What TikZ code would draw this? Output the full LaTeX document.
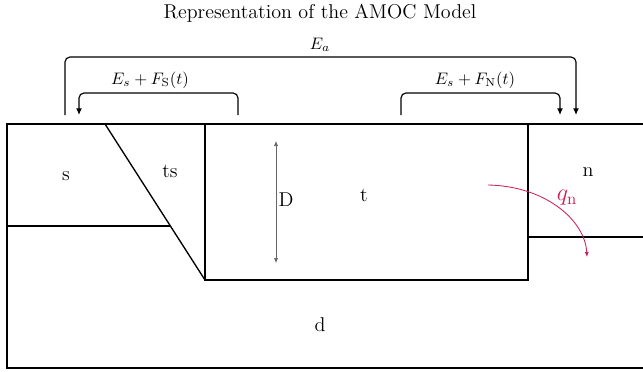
\documentclass[tikz,border=0pt]{standalone}
\usetikzlibrary{arrows.meta}
\definecolor{qred}{RGB}{205,30,85}
\tikzset{
  basin/.style={line width=0.8pt},
  flux/.style={line width=0.7pt, rounded corners=3pt, -{Latex[length=4pt,width=3.5pt]}},
  lbl/.style={font=\large},
}
\begin{document}
\begin{tikzpicture}[x=0.6pt,y=-0.6pt]
\useasboundingbox (0,0) rectangle (643,371);
\node[lbl] (title) at (320,13) {Representation of the AMOC Model};
% boxes
\draw[basin] (643,124) -- (7,124) -- (7,368) -- (643,368);
\draw[basin] (7,226) -- (170,226);
\draw[basin] (105,124) -- (205,280);
\draw[basin] (205,124) -- (205,280) -- (528,280) -- (528,124);
\draw[basin] (528,237) -- (643,237);
% labels
\node[lbl] (s) at (66,176) {s};
\node[lbl] (ts) at (170,171) {ts};
\node[lbl] (t) at (364,195) {t};
\node[lbl] (n) at (588,172) {n};
\node[lbl] (d) at (320,325) {d};
\node[lbl] (D) at (286,200) {D};
% depth
\coordinate (dtop) at (276,141);
\coordinate (dbot) at (276,263);
\draw[gray!80!black, line width=0.4pt, {Latex[length=3pt,width=2.5pt]}-{Latex[length=3pt,width=2.5pt]}] (dtop) -- (dbot);
% exchanges
\node (ea) at (320,45) {$E_a$};
\node (es) at (150,80) {$E_s + F_{\mathrm{S}}(t)$};
\node (en) at (475,80) {$E_s + F_{\mathrm{N}}(t)$};
\coordinate (ea1) at (65,115);
\coordinate (ea2) at (576,115);
\coordinate (es1) at (238,115);
\coordinate (es2) at (79,115);
\coordinate (en1) at (401,115);
\coordinate (en2) at (560,115);
\draw[flux] (ea1) -- (65,57) -- (576,57) -- (ea2);
\draw[flux] (es1) -- (238,93) -- (79,93) -- (es2);
\draw[flux] (en1) -- (401,93) -- (560,93) -- (en2);
% overturning
\node[qred] (qn) at (567,198) {\Large $q_{\mathrm{n}}$};
\coordinate (qs) at (488,185);
\coordinate (qe) at (587,257);
\draw[qred, line width=0.5pt, -{Latex[length=3pt,width=2.5pt]}] (qs) .. controls (545,186) and (585,220) .. (qe);
\end{tikzpicture}
\end{document}
